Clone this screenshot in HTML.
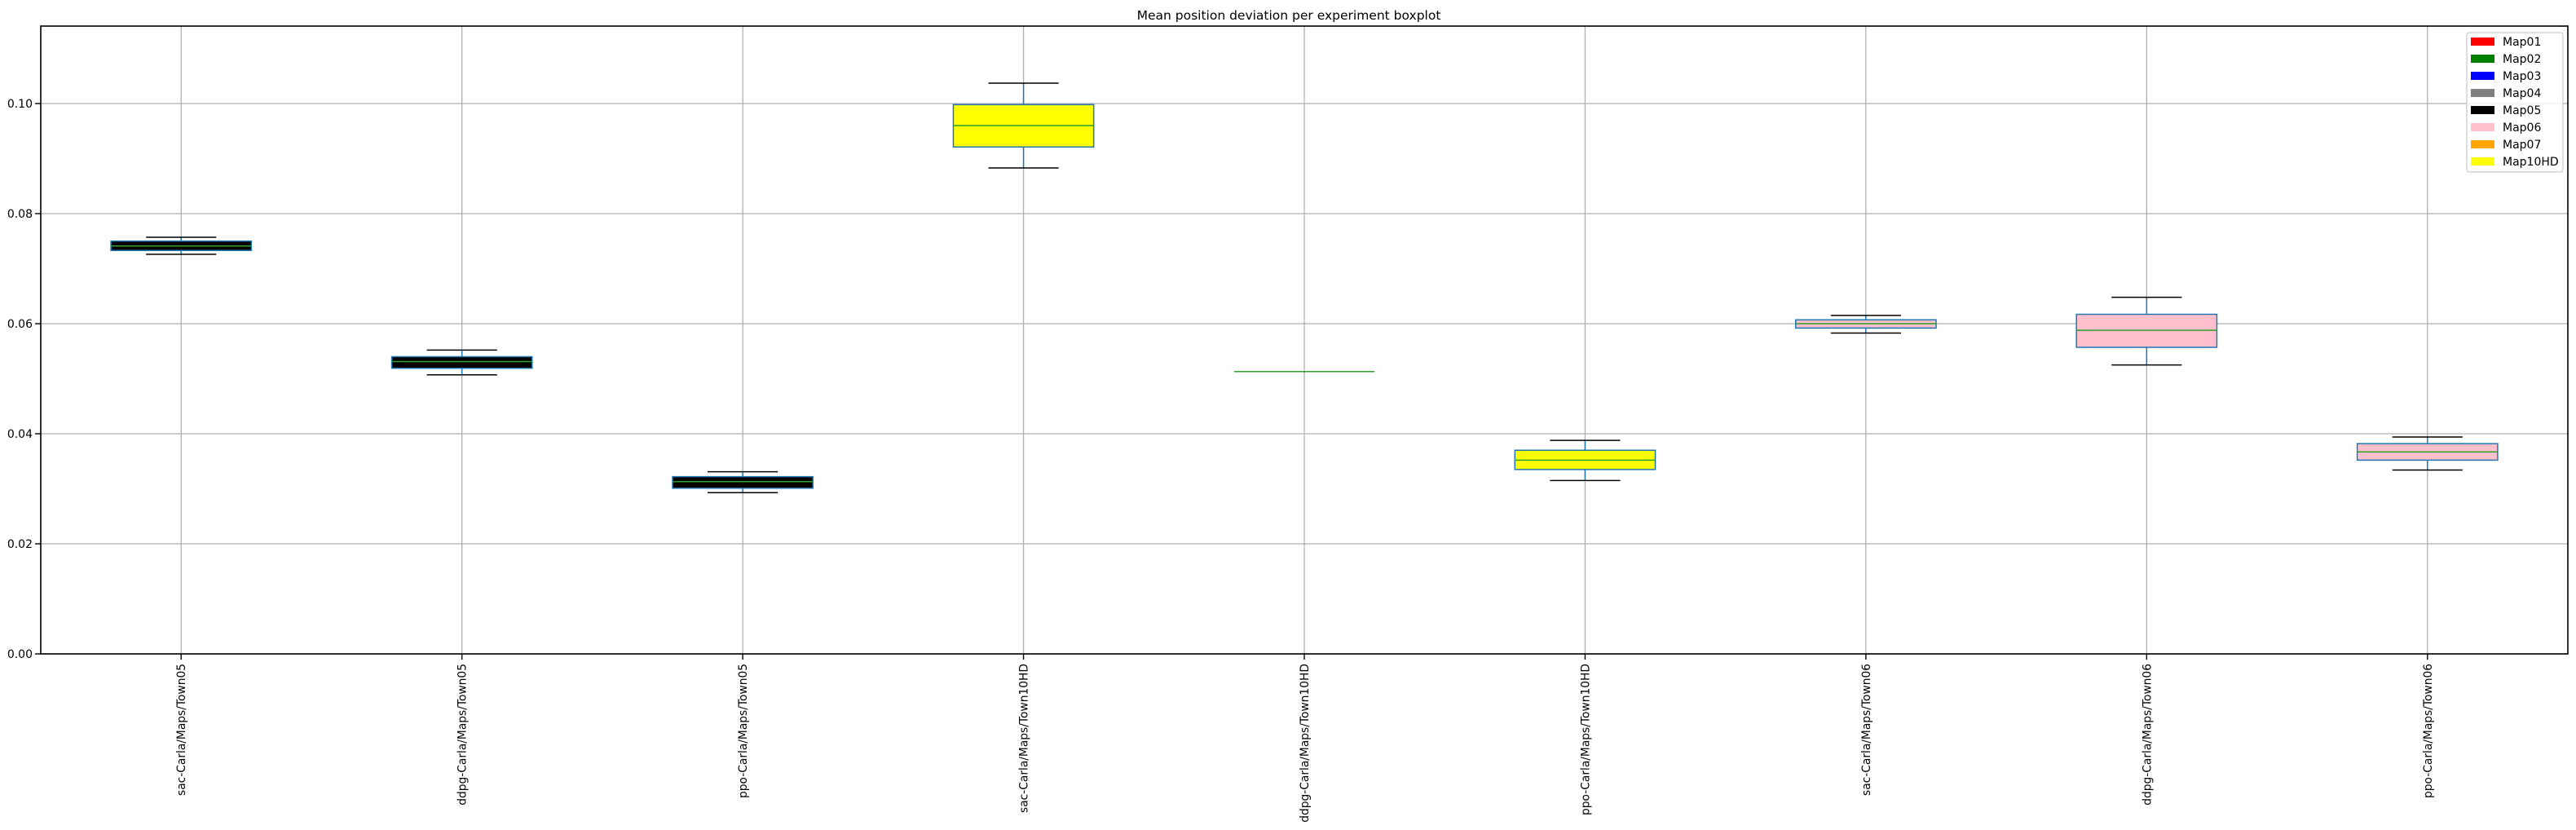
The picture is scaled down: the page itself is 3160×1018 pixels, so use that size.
<!DOCTYPE html>
<html><head><meta charset="utf-8"><style>
html,body{margin:0;padding:0;background:#fff;}
svg{display:block;font-family:"DejaVu Sans","Liberation Sans",sans-serif;}
</style></head><body>
<svg id="chart" width="3160" height="1018" viewBox="0 0 3160 1018" xmlns="http://www.w3.org/2000/svg">
<rect x="0" y="0" width="3160" height="1018" fill="#fff"/>
<text x="1581" y="24" font-size="15.5" text-anchor="middle" fill="#000">Mean position deviation per experiment boxplot</text>
<g id="grid"></g><g id="boxes"></g><g id="axes"></g><g id="legend"></g>
</svg>
<script>
const categories = ["sac-Carla/Maps/Town05","ddpg-Carla/Maps/Town05","ppo-Carla/Maps/Town05","sac-Carla/Maps/Town10HD","ddpg-Carla/Maps/Town10HD","ppo-Carla/Maps/Town10HD","sac-Carla/Maps/Town06","ddpg-Carla/Maps/Town06","ppo-Carla/Maps/Town06"];
const whiskerLow = [0.0726,0.0507,0.0293,0.0883,0.0513,0.0315,0.0583,0.0525,0.0334];
const q1 = [0.0733,0.0519,0.0301,0.0921,0.0513,0.0335,0.0592,0.0557,0.0352];
const medians = [0.0741,0.0531,0.0313,0.0960,0.0513,0.0352,0.0600,0.0588,0.0367];
const q3 = [0.0750,0.0540,0.0322,0.0998,0.0513,0.0370,0.0607,0.0617,0.0382];
const whiskerHigh = [0.0757,0.0552,0.0331,0.1037,0.0513,0.0388,0.0615,0.0648,0.0394];
const boxColors = ["black","black","black","yellow","green","yellow","pink","pink","pink"];
const yTicks = [0.00,0.02,0.04,0.06,0.08,0.10];
const yTickLabels = ["0.00","0.02","0.04","0.06","0.08","0.10"];
const legendLabels = ["Map01","Map02","Map03","Map04","Map05","Map06","Map07","Map10HD"];
const legendColors = ["red","green","blue","gray","black","pink","orange","yellow"];

const NS="http://www.w3.org/2000/svg";
const L=50,R=3150,T=32,B=802,yMax=0.11407;
const y=v=>B-(v/yMax)*(B-T);
const step=(R-L)/categories.length;
const x=i=>L+step*(i+0.5);
function mk(tag,attrs,parent){const e=document.createElementNS(NS,tag);for(const k in attrs)e.setAttribute(k,attrs[k]);parent.appendChild(e);return e;}
const grid=document.getElementById('grid'),boxes=document.getElementById('boxes'),axes=document.getElementById('axes'),legend=document.getElementById('legend');

yTicks.forEach((t,i)=>{
  const g=mk('line',{x1:L,x2:R,y1:y(t),y2:y(t),stroke:'#b0b0b0','stroke-width':1.3},grid);
  
  
  const tk=mk('line',{x1:L-7,x2:L,y1:y(t),y2:y(t),stroke:'#000','stroke-width':1.4},axes);
  
  
  const tl=mk('text',{x:L-10,y:y(t)+5,'font-size':14,'text-anchor':'end',fill:'#000'},axes);
  tl.textContent=yTickLabels[i];
  
  
});
categories.forEach((c,i)=>{
  const cx=x(i);
  const g=mk('line',{x1:cx,x2:cx,y1:T,y2:B,stroke:'#b0b0b0','stroke-width':1.3},grid);
  
  
  const tk=mk('line',{x1:cx,x2:cx,y1:B,y2:B+7,stroke:'#000','stroke-width':1.4},axes);
  
  
  const tl=mk('text',{x:0,y:0,'font-size':13.8,'text-anchor':'end',fill:'#000',transform:`translate(${cx+5},${B+12}) rotate(-90)`},axes);
  tl.textContent=c;
  
  

  const bw=step*0.5,cw=step*0.25;
  const grp=mk('g',{},boxes);
  
  
  mk('line',{x1:cx,x2:cx,y1:y(whiskerHigh[i]),y2:y(q3[i]),stroke:'#1f77b4','stroke-width':1.5},grp);
  mk('line',{x1:cx,x2:cx,y1:y(q1[i]),y2:y(whiskerLow[i]),stroke:'#1f77b4','stroke-width':1.5},grp);
  mk('line',{x1:cx-cw/2,x2:cx+cw/2,y1:y(whiskerHigh[i]),y2:y(whiskerHigh[i]),stroke:'#000','stroke-width':1.5},grp);
  mk('line',{x1:cx-cw/2,x2:cx+cw/2,y1:y(whiskerLow[i]),y2:y(whiskerLow[i]),stroke:'#000','stroke-width':1.5},grp);
  mk('rect',{x:cx-bw/2,y:y(q3[i]),width:bw,height:Math.max(0,y(q1[i])-y(q3[i])),fill:boxColors[i],stroke:'#1f77b4','stroke-width':1.5},grp);
  mk('line',{x1:cx-bw/2,x2:cx+bw/2,y1:y(medians[i]),y2:y(medians[i]),stroke:'#2ca02c','stroke-width':1.5},grp);
});
mk('rect',{x:L,y:T,width:R-L,height:B-T,fill:'none',stroke:'#000','stroke-width':1.6},axes);

const lg=mk('rect',{x:3026,y:40,width:118,height:171,rx:3,fill:'#fff','fill-opacity':0.8,stroke:'#ccc','stroke-width':1.3},legend);


legendLabels.forEach((lab,i)=>{
  const cy=51+i*21;
  const g=mk('g',{},legend);
  
  
  mk('rect',{x:3031,y:cy-5,width:29,height:10,fill:legendColors[i]},g);
  const t=mk('text',{x:3070,y:cy+5,'font-size':14,fill:'#000'},g);
  t.textContent=lab;
});
</script>
</body></html>
